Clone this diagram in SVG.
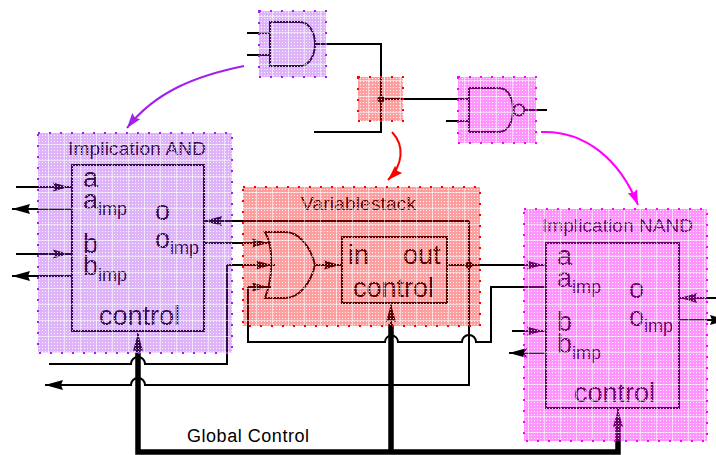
<svg xmlns="http://www.w3.org/2000/svg" width="716" height="455" viewBox="0 0 716 455">
<style>
.w{fill:none;stroke:#000;stroke-width:2}
.g{fill:none;stroke:#000;stroke-width:2}
.b{fill:none;stroke:#000;stroke-width:5.5}
.t{font-family:"Liberation Sans",Arial,sans-serif;fill:#000}
.s19{font-size:19px}.s26{font-size:27px}.s18{font-size:18px}
.in{marker-end:url(#mi)}.out{marker-end:url(#mo)}
.bp{stroke:#a020f0}.bm{stroke:#f0f}.br{stroke:#f00}
.border{fill:none;stroke-width:2;stroke-dasharray:2 9}
</style>
<defs>
<marker id="mi" markerUnits="userSpaceOnUse" markerWidth="22" markerHeight="12" refX="19" refY="6" orient="auto" overflow="visible"><path d="M0 1.500L16 6L0 10.500L2 6Z" fill="#000"/></marker>
<marker id="mo" markerUnits="userSpaceOnUse" markerWidth="22" markerHeight="12" refX="18" refY="6" orient="auto" overflow="visible"><path d="M0 1L18 6L0 11L2 6Z" fill="#000"/></marker>
<marker id="mp" markerUnits="userSpaceOnUse" markerWidth="16" markerHeight="12" refX="15" refY="6" orient="auto" overflow="visible"><path d="M0 1L15 6L0 11L2 6Z" fill="#a020f0"/></marker>
<marker id="mr" markerUnits="userSpaceOnUse" markerWidth="16" markerHeight="12" refX="15" refY="6" orient="auto" overflow="visible"><path d="M0 1L15 6L0 11L2 6Z" fill="#f00"/></marker>
<marker id="mm" markerUnits="userSpaceOnUse" markerWidth="16" markerHeight="12" refX="15" refY="6" orient="auto" overflow="visible"><path d="M0 1L15 6L0 11L2 6Z" fill="#f0f"/></marker>
<pattern id="pp" width="3" height="3" patternUnits="userSpaceOnUse"><rect width="3" height="3" fill="#a020f0" fill-opacity=".34"/><rect width="1" height="1" fill="#fff" fill-opacity=".85"/></pattern>
<pattern id="pm" width="3" height="3" patternUnits="userSpaceOnUse"><rect width="3" height="3" fill="#f0f" fill-opacity=".42"/><rect width="1" height="1" fill="#fff" fill-opacity=".85"/></pattern>
<pattern id="pr" width="3" height="3" patternUnits="userSpaceOnUse"><rect width="3" height="3" fill="#f00" fill-opacity=".38"/><rect width="1" height="1" fill="#fff" fill-opacity=".85"/></pattern>
<pattern id="gr" width="16" height="16" patternUnits="userSpaceOnUse"><path d="M0 .5H16M.5 0V16" fill="none" stroke="#fff" stroke-opacity=".55"/></pattern>
</defs>

<g id="connectors">
<path class="w" d="M247 33H270M247 55H270M315 44H381V132H314"/>
<path class="w" d="M381 99H469M446 121H469M525 110H547"/>
<circle cx="381" cy="99" r="3.500" fill="#000"/>
<path class="w in" d="M16 187H72"/>
<path class="w out" d="M72 209H12"/>
<path class="w in" d="M16 254H72"/>
<path class="w out" d="M72 276H12"/>
<path class="w out" d="M469 221H204"/>
<path class="w out" d="M469 221V385H145A7 7 0 0 0 131 385H45"/>
<path class="w in" d="M204 243H271"/>
<path class="w in" d="M227 265H275"/>
<path class="w" d="M49 364H131A7 7 0 0 1 145 364H227V265"/>
<path class="w in" d="M248 287H271"/>
<path class="w" d="M248 287V342H385A6.500 6.500 0 0 1 398 342H462A7 7 0 0 1 476 342H491V287H546"/>
<path class="w in" d="M315 265H343"/>
<path class="w in" d="M447 265H546"/>
<circle cx="469" cy="265" r="3.500" fill="#000"/>
<path class="w in" d="M512 331H546"/>
<path class="w out" d="M546 353H509"/>
<path class="w" d="M716 298H679"/>
<path d="M697 293L680 298L697 303L695 298Z" fill="#000"/>
<path class="w out" d="M679 320H728"/>
<path class="b" d="M138 350V452H618V426M391 452V324"/>
<path class="w out" d="M138 352V333"/>
<path class="w out" d="M391 325V304"/>
<path class="w out" d="M618 428V409"/>
<path d="M244 66C195 76 155 92 127 128" fill="none" stroke="#a020f0" stroke-width="2" marker-end="url(#mp)"/>
<path d="M392 132C405 146 403 165 388 180" fill="none" stroke="#f00" stroke-width="2" marker-end="url(#mr)"/>
<path d="M541 132C585 130 620 160 638 205" fill="none" stroke="#f0f" stroke-width="2" marker-end="url(#mm)"/>
</g>

<g id="gate-and">
<path class="g" d="M270 22H300C310 22 315 34 315 44C315 54 310 66 300 66H270Z"/>
<rect x="259" y="11" width="67" height="66" fill="url(#pp)"/>
<rect x="259" y="11" width="67" height="66" fill="url(#gr)"/>
<rect class="border bp" x="259" y="11" width="67" height="66"/>
</g>

<g id="junction">
<rect x="358" y="77" width="45" height="44" fill="url(#pr)"/>
<rect x="358" y="77" width="45" height="44" fill="url(#gr)"/>
<rect class="border br" x="358" y="77" width="45" height="44"/>
</g>

<g id="gate-nand">
<path class="g" d="M469 88H499C509 88 513 100 513 110C513 120 509 132 499 132H469Z"/>
<circle class="g" cx="519" cy="110" r="5.500"/>
<rect x="458" y="77" width="78" height="66" fill="url(#pm)"/>
<rect x="458" y="77" width="78" height="66" fill="url(#gr)"/>
<rect class="border bm" x="458" y="77" width="78" height="66"/>
</g>

<g id="implication-and">
<rect class="g" x="72" y="165" width="132" height="166"/>
<text class="t s19" x="68" y="155" textLength="138" lengthAdjust="spacing">Implication AND</text>
<text class="t s26" x="83" y="187">a</text>
<text class="t s26" x="83" y="209">a</text><text class="t s18" x="98" y="215">imp</text>
<text class="t s26" x="83" y="253">b</text>
<text class="t s26" x="83" y="275">b</text><text class="t s18" x="98" y="281">imp</text>
<text class="t s26" x="155" y="220">o</text>
<text class="t s26" x="155" y="248">o</text><text class="t s18" x="170" y="254">imp</text>
<text class="t s26" x="99" y="325">control</text>
<rect x="38" y="133" width="194" height="220" fill="url(#pp)"/>
<rect x="38" y="133" width="194" height="220" fill="url(#gr)"/>
<rect class="border bp" x="38" y="133" width="194" height="220"/>
</g>

<g id="variablestack">
<path class="g" d="M265 232H285C300 232 311 248 315 265C311 282 300 298 285 298H265C272 280 275 250 265 232Z"/>
<rect class="g" x="342" y="237" width="105" height="66"/>
<text class="t s19" x="301" y="210" textLength="115" lengthAdjust="spacing">Variablestack</text>
<text class="t s26" x="348" y="264">in</text>
<text class="t s26" x="403" y="264">out</text>
<text class="t s26" x="353" y="297">control</text>
<rect x="243" y="187" width="237" height="139" fill="url(#pr)"/>
<rect x="243" y="187" width="237" height="139" fill="url(#gr)"/>
<rect class="border br" x="243" y="187" width="237" height="139"/>
</g>

<g id="implication-nand">
<rect class="g" x="546" y="243" width="133" height="165"/>
<text class="t s19" x="542" y="232" textLength="151" lengthAdjust="spacing">Implication NAND</text>
<text class="t s26" x="557" y="265">a</text>
<text class="t s26" x="557" y="287">a</text><text class="t s18" x="572" y="293">imp</text>
<text class="t s26" x="557" y="331">b</text>
<text class="t s26" x="557" y="353">b</text><text class="t s18" x="572" y="359">imp</text>
<text class="t s26" x="629" y="298">o</text>
<text class="t s26" x="629" y="326">o</text><text class="t s18" x="644" y="332">imp</text>
<text class="t s26" x="574" y="402">control</text>
<rect x="524" y="209" width="183" height="232" fill="url(#pm)"/>
<rect x="524" y="209" width="183" height="232" fill="url(#gr)"/>
<rect class="border bm" x="524" y="209" width="183" height="232"/>
</g>

<g id="global-control">
<text class="t s18" x="187" y="442" textLength="122" lengthAdjust="spacing">Global Control</text>
</g>
</svg>
